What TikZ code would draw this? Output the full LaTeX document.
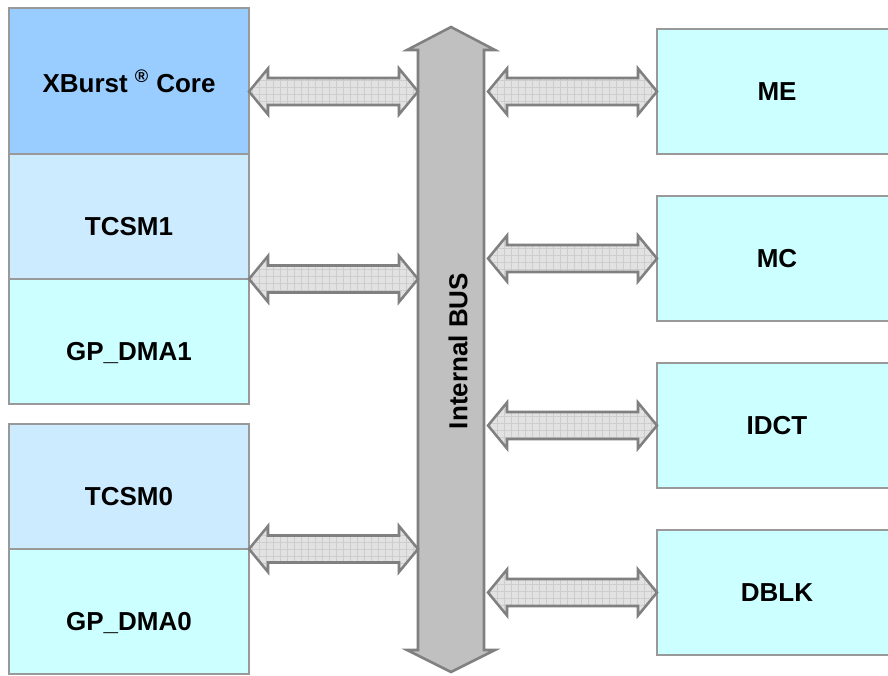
\documentclass[tikz,border=0pt]{standalone}
\usepackage{fontspec}
\setmainfont{Liberation Sans}
\usepackage{xcolor}
\usepackage{tikz}
\usetikzlibrary{positioning,calc,patterns.meta}

\definecolor{coreblue}{HTML}{99CCFF}
\definecolor{tcsmblue}{HTML}{CCEBFF}
\definecolor{unitcyan}{HTML}{CCFFFF}
\definecolor{boxline}{HTML}{999999}
\definecolor{busgray}{HTML}{C0C0C0}
\definecolor{busline}{HTML}{808080}
\definecolor{arrowfill}{HTML}{E2E2E2}
\definecolor{gridline}{HTML}{CDCDCD}

\tikzset{
    unitbox/.style={draw=boxline, line width=1.9pt, minimum width=180pt,
        minimum height=93.75pt, outer sep=0pt, inner sep=0pt,
        font=\fontsize{19.5}{22}\selectfont\bfseries},
    corebox/.style={unitbox, fill=coreblue, minimum height=109.5pt},
    tcsmbox/.style={unitbox, fill=tcsmblue},
    dmabox/.style={unitbox, fill=unitcyan},
    lowtext/.style={text height=33pt, text depth=4pt},
    busbody/.style={fill=busgray, draw=busline, line width=1.9pt, line join=miter},
    fatarrow/.style={fill=arrowfill, line join=miter,
        postaction={pattern={Hatch[distance=5.25pt, angle=0, line width=0.5pt]}, pattern color=gridline},
        postaction={draw=busline, line width=1.9pt}}
}

% double headed fat arrow between two points on the same height
\newcommand{\busarrow}[2]{%
    \path[fatarrow] (#1) -- ++(19,-23) -- ++(0,9.5) -- ($(#2)+(-19,-13.5)$)
        -- ++(0,-9.5) -- (#2) -- ++(-19,23) -- ++(0,-9.5)
        -- ($(#1)+(19,13.5)$) -- ++(0,9.5) -- cycle;}

\begin{document}
\begin{tikzpicture}[x=0.75pt, y=-0.75pt]
    \useasboundingbox (0,0) rectangle (888,675);

    % Left column
    \node[corebox] (xburst) at (129,81) {XBurst \textsuperscript{\textregistered} Core};
    \node[tcsmbox, lowtext, below=0pt of xburst] (tcsm1) {TCSM1};
    \node[dmabox, lowtext, below=0pt of tcsm1] (gpdma1) {GP\_DMA1};
    \node[tcsmbox, lowtext, below=15pt of gpdma1] (tcsm0) {TCSM0};
    \node[dmabox, lowtext, below=0pt of tcsm0] (gpdma0) {GP\_DMA0};

    % Right column
    \node[dmabox] (me) at (777,91.5) {ME};
    \node[dmabox, below=31.5pt of me] (mc) {MC};
    \node[dmabox, below=31.5pt of mc] (idct) {IDCT};
    \node[dmabox, below=31.5pt of idct] (dblk) {DBLK};

    % Internal bus
    \draw[busbody] (418,50) -- (407,50) -- (451,27) -- (495,50) -- (484,50)
        -- (484,650) -- (495,650) -- (451,672) -- (407,650) -- (418,650) -- cycle;
    \node[rotate=90, font=\fontsize{19.5}{22}\selectfont\bfseries] (busname) at (458,351) {Internal BUS};
    \coordinate (busw) at (418,350);
    \coordinate (buse) at (488,350);

    % Connectors to the bus
    \coordinate (a1) at (xburst.east |- me.center);
    \coordinate (b1) at (busw |- me.center);
    \busarrow{a1}{b1}
    \coordinate (b2) at (busw |- tcsm1.south);
    \busarrow{tcsm1.south east}{b2}
    \coordinate (b3) at (busw |- tcsm0.south);
    \busarrow{tcsm0.south east}{b3}

    \coordinate (c1) at (buse |- me.west);
    \busarrow{c1}{me.west}
    \coordinate (c2) at (buse |- mc.west);
    \busarrow{c2}{mc.west}
    \coordinate (c3) at (buse |- idct.west);
    \busarrow{c3}{idct.west}
    \coordinate (c4) at (buse |- dblk.west);
    \busarrow{c4}{dblk.west}
\end{tikzpicture}
\end{document}
